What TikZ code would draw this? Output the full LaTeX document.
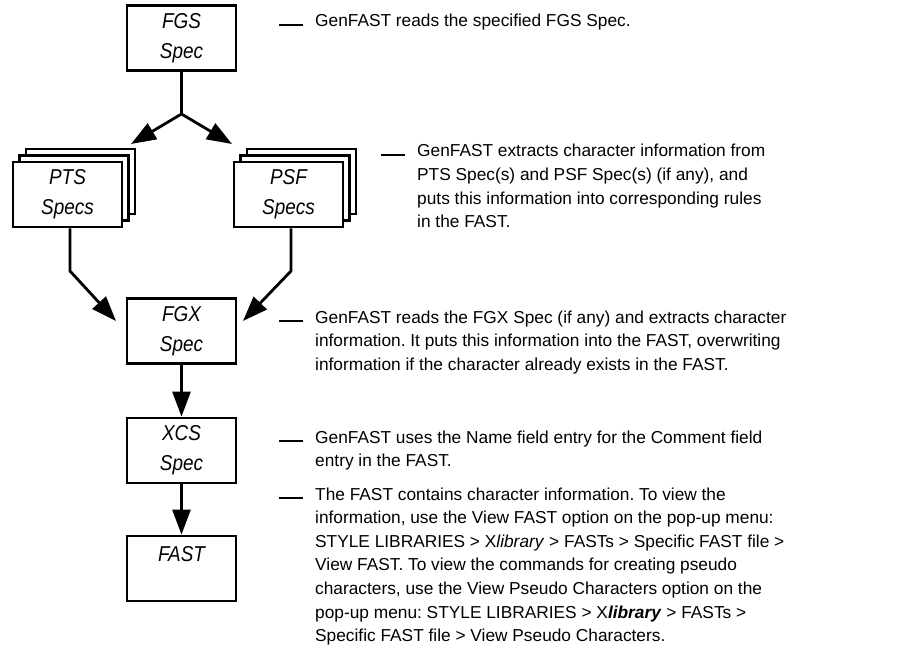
\documentclass[tikz,border=0pt]{standalone}
\usepackage{fontspec}
\setmainfont{Liberation Sans}
\newfontfamily\boxfont[FakeStretch=0.88]{Liberation Sans}
\usetikzlibrary{arrows.meta}
\frenchspacing

\begin{document}
\begin{tikzpicture}[x=1bp, y=-1bp,
  specbox/.style={draw, line width=2.8bp, fill=white, minimum width=109bp,
    minimum height=65bp, inner sep=0pt, align=center,
    font=\boxfont\itshape\fontsize{21.5bp}{30bp}\selectfont},
  link/.style={line width=2.8bp},
  arr/.style={link, -{Triangle[length=25bp,width=18bp]}},
  % anchored at the baseline of the last line of the text
  desc/.style={anchor=base west, align=left, inner sep=0pt,
    font=\fontsize{17.3bp}{23.6bp}\selectfont},
  leader/.style={line width=1.6bp}
]
% page
\fill[white] (0,0) rectangle (905,657);
\useasboundingbox (0,0) rectangle (905,657);

% spec boxes
\node[specbox] (fgs) at (181.5,38) {FGS\\Spec};

\node[specbox] (pts3) at (80.5,181.5) {};
\node[specbox] (pts2) at (74,188) {};
\node[specbox] (pts) at (67.5,194.5) {PTS\\Specs};

\node[specbox] (psf3) at (301.5,181.5) {};
\node[specbox] (psf2) at (295,188) {};
\node[specbox] (psf) at (288.5,194.5) {PSF\\Specs};

\node[specbox] (fgx) at (181.5,331) {FGX\\Spec};
\node[specbox] (xcs) at (181.5,450.5) {XCS\\Spec};
\node[specbox] (fast) at (181.5,568.5) {FAST\\\mbox{}};

% routing points
\coordinate (fork) at (181.5,114);
\coordinate (ptsin) at (131,144);
\coordinate (psfin) at (232,144);
\coordinate (ptsbend) at (70,271);
\coordinate (psfbend) at (291,271);
\coordinate (fgxinl) at (116,321);
\coordinate (fgxinr) at (243,321);

% connectors
\draw[link] (fgs.south) -- (fork);
\draw[arr] (fork) -- (ptsin);
\draw[arr] (fork) -- (psfin);
\draw[arr] (pts.south -| ptsbend) -- (ptsbend) -- (fgxinl);
\draw[arr] (psf.south -| psfbend) -- (psfbend) -- (fgxinr);
\draw[arr] (fgx.south) -- (xcs.north);
\draw[arr] (xcs.south) -- (fast.north);

% first-line baselines of the descriptions
\coordinate (b1) at (315,27);
\coordinate (b2) at (417,157);
\coordinate (b3) at (315,323);
\coordinate (b4) at (315,443);
\coordinate (b5) at (315,500);

% descriptions (placed by the baseline of their last line)
\node[desc] (d1) at (315,27) {GenFAST reads the specified FGS Spec.};
\node[desc] (d2) at (417,227.8) {GenFAST extracts character information from\\
  PTS Spec(s) and PSF Spec(s) (if any), and\\
  puts this information into corresponding rules\\
  in the FAST.};
\node[desc] (d3) at (315,370.2) {GenFAST reads the FGX Spec (if any) and extracts character\\
  information. It puts this information into the FAST, overwriting\\
  information if the character already exists in the FAST.};
\node[desc] (d4) at (315,466.6) {GenFAST uses the Name field entry for the Comment field\\
  entry in the FAST.};
\node[desc] (d5) at (315,641.6) {The FAST contains character information. To view the\\
  information, use the View FAST option on the pop-up menu:\\
  STYLE LIBRARIES > X\textit{library} > FASTs > Specific FAST file >\\
  View FAST. To view the commands for creating pseudo\\
  characters, use the View Pseudo Characters option on the\\
  pop-up menu: STYLE LIBRARIES > X\textbf{\textit{library}} > FASTs >\\
  Specific FAST file > View Pseudo Characters.};

% leader marks in front of each description
\foreach \b in {b1,b2,b3,b4,b5}
  \draw[leader] (\b) ++(-36,-2) -- ++(24,0);
\end{tikzpicture}
\end{document}
